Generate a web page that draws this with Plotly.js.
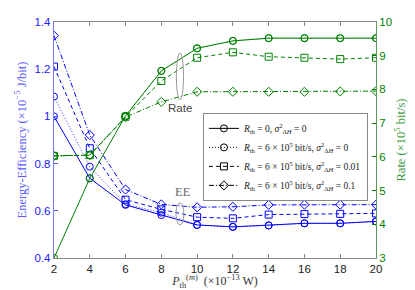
<!DOCTYPE html>
<html><head><meta charset="utf-8">
<script src="https://cdn.plot.ly/plotly-3.0.1.min.js"></script>
<style>html,body{margin:0;padding:0;background:#fff}#chart{width:415px;height:290px}</style>
</head><body><div id="chart"></div>
<script>
// Data
const power = [2, 4, 6, 8, 10, 12, 14, 16, 18, 20];
const xTicks = [2, 4, 6, 8, 10, 12, 14, 16, 18, 20];

// Energy efficiency (x1e-5 J/bit)
const eeR0 = [1.00, 0.738, 0.625, 0.582, 0.540, 0.532, 0.538, 0.547, 0.547, 0.555];
const eeS0 = [1.084, 0.787, 0.628, 0.592, 0.540, 0.532, 0.538, 0.547, 0.547, 0.555];
const eeS001 = [1.211, 0.865, 0.647, 0.606, 0.573, 0.568, 0.584, 0.586, 0.587, 0.589];
const eeS01 = [1.342, 0.921, 0.690, 0.627, 0.615, 0.617, 0.625, 0.626, 0.626, 0.626];

// Rate (x1e5 bit/s)
const rateR0 = [3.0, 5.36, 7.22, 8.55, 9.22, 9.44, 9.52, 9.52, 9.52, 9.52];
const rateS0 = [6.03, 6.05, 7.20, 8.55, 9.22, 9.44, 9.52, 9.52, 9.52, 9.52];
const rateS001 = [6.03, 6.05, 7.19, 8.25, 8.94, 9.10, 8.97, 8.94, 8.90, 8.94];
const rateS01 = [6.03, 6.05, 7.18, 7.63, 7.93, 7.93, 7.93, 7.93, 7.94, 7.95];

const legendNames = [
  '<i>R</i><sub>th</sub> = 0, <i>σ</i><sup>2</sup><sub>Δ<i>H</i></sub> = 0',
  '<i>R</i><sub>th</sub> = 6 × 10<sup>5</sup> bit/s, <i>σ</i><sup>2</sup><sub>Δ<i>H</i></sub> = 0',
  '<i>R</i><sub>th</sub> = 6 × 10<sup>5</sup> bit/s, <i>σ</i><sup>2</sup><sub>Δ<i>H</i></sub> = 0.01',
  '<i>R</i><sub>th</sub> = 6 × 10<sup>5</sup> bit/s, <i>σ</i><sup>2</sup><sub>Δ<i>H</i></sub> = 0.1'
];

const BLUE = '#0000ff', GREEN = '#008000';
const styles = [
  {dash: 'solid', symbol: 'circle-open', width: 1},
  {dash: '1px,2px', symbol: 'circle-open', width: 0.8},
  {dash: '4px,3px', symbol: 'square-open', width: 1},
  {dash: '5px,2px,1px,2px', symbol: 'diamond-open', width: 1}
];
const eeSets = [eeR0, eeS0, eeS001, eeS01];
const rateSets = [rateR0, rateS0, rateS001, rateS01];

const traces = [];
eeSets.forEach((ys, i) => {
  traces.push({x: power, y: ys, type: 'scatter', mode: 'lines+markers', showlegend: false,
    line: {color: BLUE, dash: styles[i].dash, width: styles[i].width},
    marker: {symbol: styles[i].symbol, size: 7, color: BLUE, line: {width: 1, color: BLUE}}});
});
rateSets.forEach((ys, i) => {
  traces.push({x: power, y: ys, yaxis: 'y2', type: 'scatter', mode: 'lines+markers', showlegend: false,
    line: {color: GREEN, dash: styles[i].dash, width: styles[i].width},
    marker: {symbol: styles[i].symbol, size: 7, color: GREEN, line: {width: 1, color: GREEN}}});
});
legendNames.forEach((nm, i) => {
  traces.push({x: [null], y: [null], type: 'scatter', mode: 'lines+markers', name: nm,
    line: {color: '#000', dash: styles[i].dash, width: 1},
    marker: {symbol: styles[i].symbol, size: 7, color: '#000', line: {width: 1, color: '#000'}}});
});

const layout = {
  width: 415, height: 290,
  margin: {l: 54, r: 39, t: 22, b: 32},
  paper_bgcolor: '#fff', plot_bgcolor: '#fff',
  showlegend: true,
  legend: {x: 0.975, xanchor: 'right', y: 0.615, yanchor: 'top',
    bgcolor: '#fff', bordercolor: '#888', borderwidth: 1,
    font: {family: 'Liberation Serif', size: 9.5, color: '#222'},
    tracegroupgap: 0, itemwidth: 30},
  xaxis: {range: [2, 20], tickvals: xTicks, ticks: 'inside', ticklen: 4,
    showline: true, linecolor: '#888', mirror: 'ticks', tickcolor: '#888',
    showgrid: false, zeroline: false,
    tickfont: {family: 'Liberation Sans', size: 11.5, color: '#222'},
    title: {text: '<i>P</i><sub>th</sub><sup>(<i>m</i>)</sup>  (×10<sup>−13</sup> W)', standoff: 2,
      font: {family: 'Liberation Serif', size: 12, color: '#333'}}},
  yaxis: {range: [0.4, 1.4], tickvals: [0.4, 0.6, 0.8, 1, 1.2, 1.4], ticktext: ['0.4','0.6','0.8','1','1.2','1.4'],
    ticks: 'inside', ticklen: 4, tickcolor: '#5a5aff',
    showline: true, linecolor: '#7a7aff', linewidth: 1.2, showgrid: false, zeroline: false,
    tickfont: {family: 'Liberation Sans', size: 11.5, color: '#2020ff'},
    title: {text: 'Energy-Efficiency (×10<sup>−5</sup> J/bit)', standoff: 5,
      font: {family: 'Liberation Serif', size: 12.5, color: '#5a5aff'}}},
  yaxis2: {range: [3, 10], overlaying: 'y', side: 'right', tickvals: [3,4,5,6,7,8,9,10],
    ticks: 'inside', ticklen: 4, tickcolor: GREEN,
    showline: true, linecolor: '#5a9a5a', showgrid: false, zeroline: false,
    tickfont: {family: 'Liberation Sans', size: 11.5, color: GREEN},
    title: {text: 'Rate (×10<sup>5</sup> bit/s)', standoff: 5,
      font: {family: 'Liberation Serif', size: 12.5, color: '#3a9a3a'}}},
  shapes: [
    {type: 'circle', xref: 'x', yref: 'y2', x0: 8.84, x1: 9.24, y0: 7.69, y1: 9.08,
      line: {color: '#999', width: 1}},
    {type: 'circle', xref: 'x', yref: 'y', x0: 8.82, x1: 9.26, y0: 0.54, y1: 0.633,
      line: {color: '#999', width: 1}}
  ],
  annotations: [
    {x: 9.04, y: 7.45, xref: 'x', yref: 'y2', text: 'Rate', showarrow: false,
      font: {family: 'Liberation Sans', size: 11.5, color: '#444'}},
    {x: 9.2, y: 0.68, xref: 'x', yref: 'y', text: 'EE', showarrow: false,
      font: {family: 'Liberation Serif', size: 12.5, color: '#666'}}
  ]
};
Plotly.newPlot('chart', traces, layout, {displayModeBar: false, staticPlot: true});
</script></body></html>
